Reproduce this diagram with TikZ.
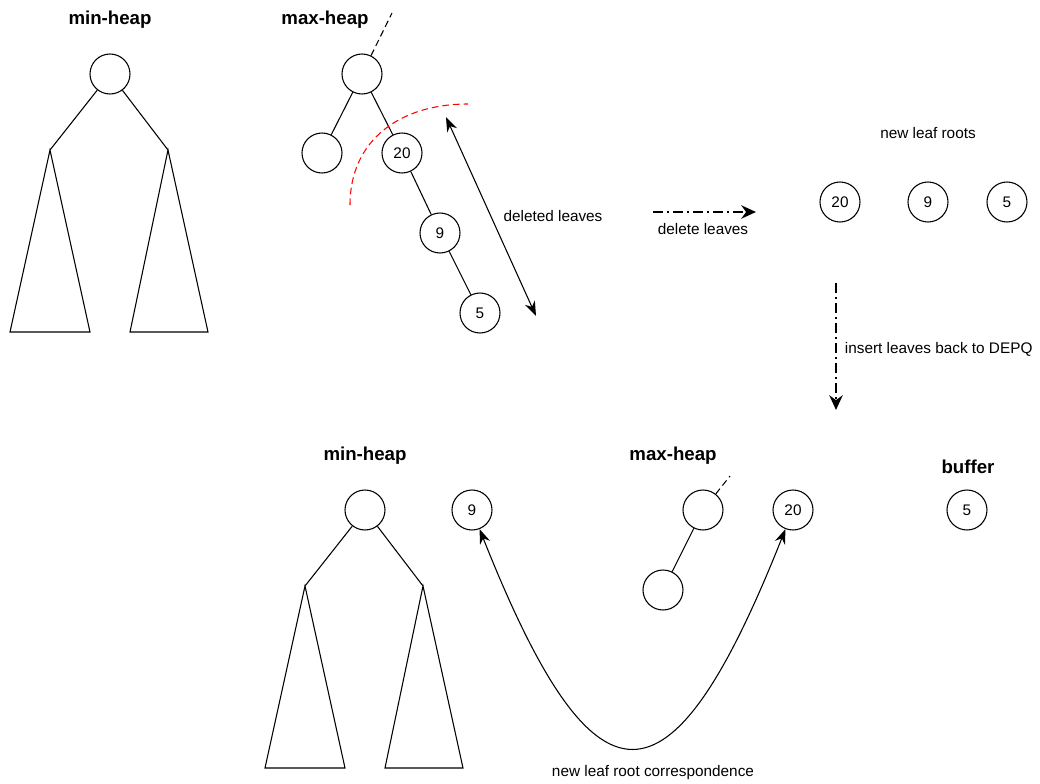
\documentclass[tikz,border=0pt]{standalone}
\usepackage{fontspec}
\setmainfont{Liberation Sans}
\usetikzlibrary{arrows.meta}

\begin{document}
\begin{tikzpicture}[x=0.75pt,y=-0.75pt,line width=0.8pt]
	\tikzstyle{heapnode}=[draw,circle,minimum size=30pt,inner sep=0pt,font=\fontsize{11.5}{13}\selectfont]
	\tikzstyle{title}=[font=\fontsize{14}{16}\selectfont\bfseries]
	\tikzstyle{txt}=[font=\fontsize{11.5}{13}\selectfont]
	\tikzstyle{cut}=[dash pattern=on 5pt off 3pt]
	\tikzstyle{flow}=[line width=1.8pt,dash pattern=on 7.5pt off 3pt on 1.5pt off 3pt,-{Stealth[length=11pt,width=10pt]}]
	\tikzstyle{span}=[{Stealth[length=11pt,width=8pt]}-{Stealth[length=11pt,width=8pt]}]
	\useasboundingbox (0,0) rectangle (1040,783);
	\node[title] (t1) at (110,20) {min-heap};
	\node[heapnode] (a0) at (110,74) {};
	\coordinate (a1) at (50,150);
	\coordinate (a2) at (168,150);
	\draw (a0) -- (a1);
	\draw (a0) -- (a2);
	\draw (a1) -- (10,332) -- (90,332) -- cycle;
	\draw (a2) -- (130,332) -- (208,332) -- cycle;
	
	\node[title] (t2) at (325,20) {max-heap};
	\node[heapnode] (b0) at (362,74) {};
	\node[heapnode] (b1) at (322,153) {};
	\node[heapnode] (b2) at (402,153) {20};
	\node[heapnode] (b3) at (440,233) {9};
	\node[heapnode] (b4) at (480,313) {5};
	\coordinate (b5) at (392,13);
	\draw[cut] (b0) -- (b5);
	\draw (b0) -- (b1);
	\draw (b0) -- (b2);
	\draw (b2) -- (b3);
	\draw (b3) -- (b4);
	\coordinate (r1) at (350,205);
	\coordinate (r2) at (468,104);
	\draw[red,cut] (r1) .. controls (350,140) and (400,104) .. (r2);
	\coordinate (c1) at (446,117);
	\coordinate (c2) at (536,316);
	\draw[span] (c1) -- (c2);
	\node[txt] (del) at (553,216) {deleted leaves};
	
	\coordinate (d1) at (653,212);
	\coordinate (d2) at (756,212);
	\draw[flow] (d1) -- (d2);
	\node[txt] (dl) at (703,229) {delete leaves};
	
	\node[txt] (nlr) at (928,133) {new leaf roots};
	\node[heapnode] (e1) at (840,202) {20};
	\node[heapnode] (e2) at (928,202) {9};
	\node[heapnode] (e3) at (1007,202) {5};
	
	\coordinate (v1) at (836,283);
	\coordinate (v2) at (836,410);
	\draw[flow] (v1) -- (v2);
	\node[txt,anchor=west] (ins) at (840,349) {insert leaves back to DEPQ};
	
	\node[title] (t3) at (365,456) {min-heap};
	\node[heapnode] (f0) at (365,510) {};
	\coordinate (f1) at (305,586);
	\coordinate (f2) at (423,586);
	\draw (f0) -- (f1);
	\draw (f0) -- (f2);
	\draw (f1) -- (265,768) -- (345,768) -- cycle;
	\draw (f2) -- (385,768) -- (463,768) -- cycle;
	\node[heapnode] (g9) at (472,510) {9};
	
	\node[title] (t4) at (673,456) {max-heap};
	\node[heapnode] (h0) at (703,510) {};
	\node[heapnode] (h1) at (663,590) {};
	\coordinate (h2) at (730,476);
	\draw[cut] (h0) -- (h2);
	\draw (h0) -- (h1);
	\node[heapnode] (g20) at (793,510) {20};
	
	\node[title] (t5) at (968,467) {buffer};
	\node[heapnode] (g5) at (967,510) {5};
	
	\draw[span] (g9) .. controls (595,820) and (670,820) .. (g20);
	\node[txt] (corr) at (653,773) {new leaf root correspondence};
\end{tikzpicture}
\end{document}
